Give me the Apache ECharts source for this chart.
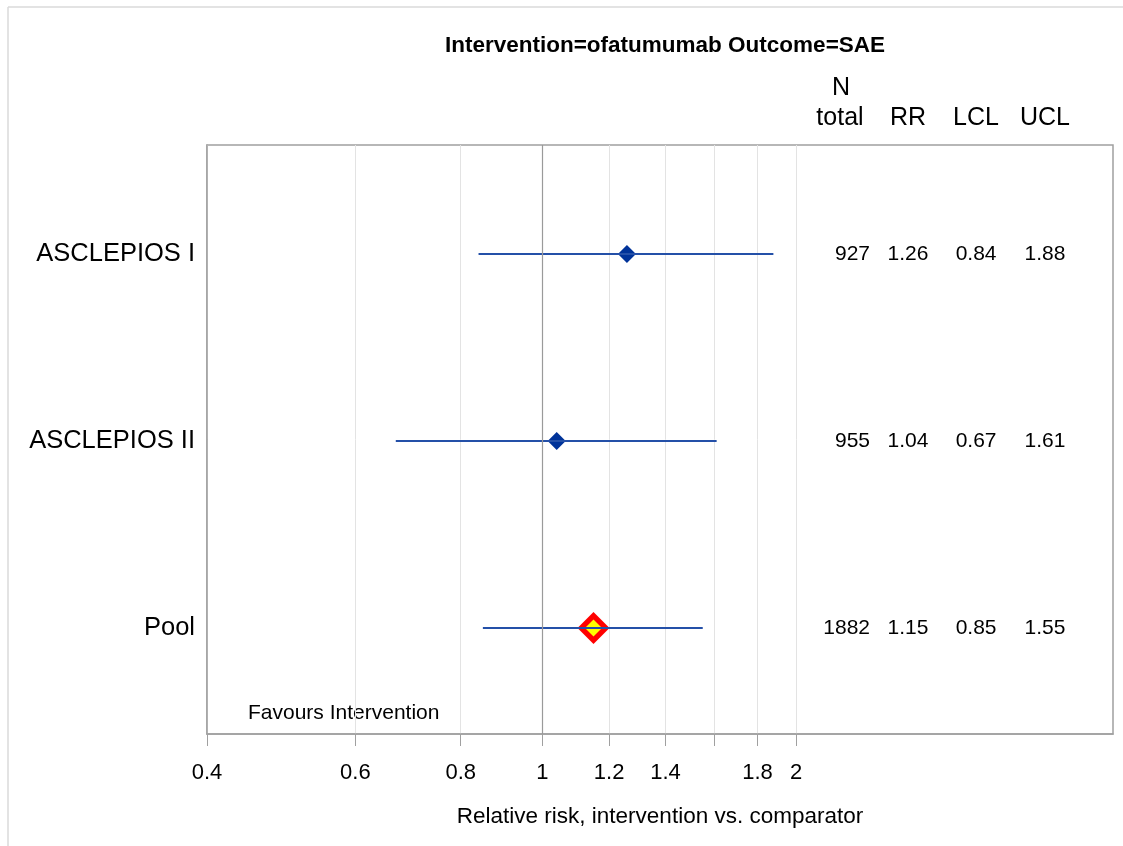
<!DOCTYPE html>
<html><head><meta charset="utf-8">
<script src="https://cdn.jsdelivr.net/npm/echarts@6/dist/echarts.min.js"></script>
<style>html,body{margin:0;padding:0;background:#fff}#c{width:1123px;height:846px}</style>
</head><body><div id="c"></div>
<script>
// ---- data ----
const studies = ['ASCLEPIOS I', 'ASCLEPIOS II', 'Pool'];
const nTotal = [927, 955, 1882];
const rr = [1.26, 1.04, 1.15];
const lcl = [0.84, 0.67, 0.85];
const ucl = [1.88, 1.61, 1.55];
const rrText = ['1.26', '1.04', '1.15'];
const lclText = ['0.84', '0.67', '0.85'];
const uclText = ['1.88', '1.61', '1.55'];
const tickValues = [0.4, 0.6, 0.8, 1, 1.2, 1.4, 1.6, 1.8, 2];
const tickLabels = [0.4, 0.6, 0.8, 1, 1.2, 1.4, 1.8, 2];
const columnHeaders = ['total', 'RR', 'LCL', 'UCL'];

// ---- layout ----
const FONT = "'Liberation Sans', Arial, sans-serif";
const colX = [2.448, 2.716, 3.271, 3.949];   // column anchor positions on the x scale
const colAlign = ['right', 'center', 'center', 'center'];
const rowPos = studies.map((s, i) => i + 1);

const chart = echarts.init(document.getElementById('c'), null, {renderer: 'canvas'});

const studyIdx = [0, 1];
const poolIdx = [2];

const textData = [];
studies.forEach((s, i) => {
  const vals = [String(nTotal[i]), rrText[i], lclText[i], uclText[i]];
  vals.forEach((v, c) => textData.push([colX[c], rowPos[i], v, colAlign[c]]));
});

const hdr = (text, x, y) => ({type: 'text', x: x, y: y,
  style: {text: text, font: '25px ' + FONT, fill: '#000', align: 'center', verticalAlign: 'middle'}});

const option = {
  backgroundColor: '#fff',
  animation: false,
  title: {
    text: 'Intervention=ofatumumab Outcome=SAE',
    left: 660, top: 29, textAlign: 'center',
    textStyle: {fontFamily: FONT, fontSize: 22.5, fontWeight: 'bold', color: '#000'}
  },
  grid: {left: 207, right: 10, top: 145, bottom: 112, show: true,
         borderColor: '#a0a0a0', borderWidth: 1.5, backgroundColor: 'transparent'},
  xAxis: {
    type: 'log', min: 0.4, max: 4.755, logBase: 10,
    name: 'Relative risk, intervention vs. comparator',
    nameLocation: 'middle', nameGap: 71,
    nameTextStyle: {fontFamily: FONT, fontSize: 22.5, color: '#000'},
    axisLine: {show: true, lineStyle: {color: '#a0a0a0', width: 1.5}},
    axisTick: {show: true, length: 12, customValues: tickValues, lineStyle: {color: '#a0a0a0'}},
    axisLabel: {customValues: tickLabels, margin: 28, fontFamily: FONT, fontSize: 22, color: '#000',
                formatter: v => String(Math.round(v * 10) / 10)},
    splitLine: {show: true, lineStyle: {color: '#e3e3e3', width: 1}},
    minorTick: {show: false}, minorSplitLine: {show: false}
  },
  yAxis: {
    type: 'value', inverse: true, min: 0.417, max: 3.567,
    axisLine: {show: true, lineStyle: {color: '#a0a0a0', width: 1.5}},
    axisTick: {show: false},
    splitLine: {show: false},
    axisLabel: {customValues: rowPos, margin: 12, fontFamily: FONT, fontSize: 25.5, color: '#000',
                formatter: v => studies[Math.round(v) - 1] || ''}
  },
  graphic: [
    {type: 'line', shape: {x1: 8, y1: 7, x2: 1123, y2: 7}, style: {stroke: '#dadada', lineWidth: 1.5}, silent: true},
    {type: 'line', shape: {x1: 8, y1: 7, x2: 8, y2: 846}, style: {stroke: '#dadada', lineWidth: 1.5}, silent: true},
    hdr('N', 841, 88),
    hdr(columnHeaders[0], 840, 118),
    hdr(columnHeaders[1], 908, 118),
    hdr(columnHeaders[2], 976, 118),
    hdr(columnHeaders[3], 1045, 118),
    {type: 'text', x: 248, y: 713, style: {text: 'Favours Intervention', font: '21px ' + FONT, fill: '#000', align: 'left', verticalAlign: 'middle'}}
  ],
  series: [
    {
      name: 'studies', type: 'scatter', symbol: 'diamond', symbolSize: 18,
      itemStyle: {color: '#003399', opacity: 1},
      data: studyIdx.map(i => [rr[i], rowPos[i]]),
      markLine: {silent: true, symbol: ['none', 'none'], label: {show: false},
                 lineStyle: {color: '#9a9a9a', type: 'solid', width: 1.2}, data: [{xAxis: 1}]},
      z: 3
    },
    {
      name: 'pool-outer', type: 'scatter', symbol: 'diamond', symbolSize: 32,
      itemStyle: {color: '#ff0000', opacity: 1},
      data: poolIdx.map(i => [rr[i], rowPos[i]]), z: 3
    },
    {
      name: 'pool-inner', type: 'scatter', symbol: 'diamond', symbolSize: 17,
      itemStyle: {color: '#ffff00', opacity: 1},
      data: poolIdx.map(i => [rr[i], rowPos[i]]), z: 3
    },
    {
      name: 'ci', type: 'custom', z: 4,
      data: studies.map((s, i) => [lcl[i], ucl[i], rowPos[i]]),
      encode: {x: [0, 1], y: 2},
      renderItem: (params, api) => {
        const p1 = api.coord([api.value(0), api.value(2)]);
        const p2 = api.coord([api.value(1), api.value(2)]);
        return {type: 'line', shape: {x1: p1[0], y1: p1[1], x2: p2[0], y2: p2[1]},
                style: {stroke: '#2450a8', lineWidth: 2}};
      }
    },
    {
      name: 'table', type: 'custom', z: 5,
      data: textData,
      encode: {x: 0, y: 1},
      renderItem: (params, api) => {
        const p = api.coord([api.value(0), api.value(1)]);
        const d = textData[params.dataIndex];
        return {type: 'text', x: p[0], y: p[1],
                style: {text: d[2], align: d[3], verticalAlign: 'middle', font: '21px ' + FONT, fill: '#000'}};
      }
    }
  ]
};
chart.setOption(option);
</script>
</body></html>
